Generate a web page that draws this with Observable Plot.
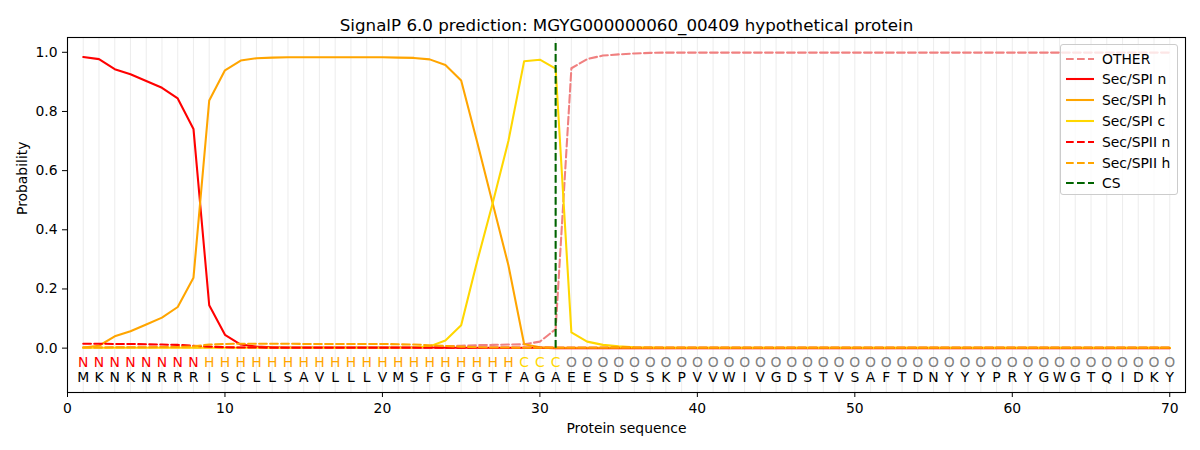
<!DOCTYPE html>
<html>
<head>
<meta charset="utf-8">
<script src="https://cdn.jsdelivr.net/npm/d3@7"></script>
<script src="https://cdn.jsdelivr.net/npm/@observablehq/plot@0.6"></script>
<style>
  html, body { margin: 0; padding: 0; background: #fff; }
  #wrap { position: relative; width: 1200px; height: 450px; font-family: "DejaVu Sans", sans-serif; }
  #legend { position: absolute; left: 1060px; top: 44px; width: 116px; height: 149px;
    border: 1px solid #cccccc; border-radius: 3px; background: rgba(255,255,255,0.8); }
  .row { position: absolute; left: 0; height: 20px; display: flex; align-items: center; font-size: 13.9px; color: #000; }
  .row svg { margin-left: 5px; margin-right: 8px; }
</style>
</head>
<body>
<div id="wrap"><div id="chart"></div><div id="legend"></div></div>
<script>
const title = "SignalP 6.0 prediction: MGYG000000060_00409 hypothetical protein";
const sequence = "MKNKNRRRISCLLSAVLLLVMSFGFGTFAGAEESDSSKPVVWIVGDSTVSAFTDNYYYPRYGWGTQIDKY".split("");
const regionLabels = "NNNNNNNNHHHHHHHHHHHHHHHHHHHHCCCOOOOOOOOOOOOOOOOOOOOOOOOOOOOOOOOOOOOOOO".split("");
const regionColors = {N: "#ff0000", H: "#ffa500", C: "#ffd700", O: "#808080"};
const xTicks = [0, 10, 20, 30, 40, 50, 60, 70];
const yTicks = [0, 0.2, 0.4, 0.6, 0.8, 1.0];
const csPosition = 31;

const other = [
  0.002,0.002,0.002,0.002,0.002,0.002,0.002,0.002,0.002,0.002,
  0.002,0.002,0.002,0.002,0.002,0.002,0.002,0.002,0.002,0.002,
  0.002,0.002,0.004,0.006,0.008,0.010,0.011,0.012,0.013,0.022,
  0.064,0.946,0.977,0.989,0.993,0.996,0.998,0.999,0.999,0.999,
  0.999,0.999,0.999,0.999,0.999,0.999,0.999,0.999,0.999,0.999,
  0.999,0.999,0.999,0.999,0.999,0.999,0.999,0.999,0.999,0.999,
  0.999,0.999,0.999,0.999,0.999,0.999,0.999,0.999,0.999,0.999];
const spiN = [
  0.984,0.977,0.943,0.926,0.903,0.880,0.844,0.741,0.145,0.045,
  0.012,0.005,0.003,0.002,0.002,0.002,0.002,0.002,0.002,0.002,
  0.002,0.002,0.002,0.001,0.001,0.001,0.001,0.001,0.001,0.001,
  0,0,0,0,0,0,0,0,0,0,
  0,0,0,0,0,0,0,0,0,0,
  0,0,0,0,0,0,0,0,0,0,
  0,0,0,0,0,0,0,0,0,0];
const spiH = [
  0.002,0.008,0.040,0.057,0.080,0.103,0.139,0.238,0.837,0.939,
  0.972,0.980,0.982,0.983,0.983,0.983,0.983,0.983,0.983,0.983,
  0.982,0.981,0.976,0.957,0.905,0.700,0.490,0.280,0.013,0.003,
  0.001,0.001,0.001,0.001,0.001,0.001,0.001,0.001,0.001,0.001,
  0.001,0.001,0.001,0.001,0.001,0.001,0.001,0.001,0.001,0.001,
  0.001,0.001,0.001,0.001,0.001,0.001,0.001,0.001,0.001,0.001,
  0.001,0.001,0.001,0.001,0.001,0.001,0.001,0.001,0.001,0.001];
const spiC = [
  0.001,0.001,0.001,0.001,0.001,0.001,0.001,0.001,0.001,0.001,
  0.001,0.001,0.001,0.001,0.001,0.001,0.001,0.001,0.001,0.001,
  0.001,0.002,0.006,0.026,0.077,0.290,0.490,0.700,0.970,0.975,
  0.945,0.053,0.022,0.011,0.006,0.003,0.002,0.001,0.001,0.001,
  0.001,0.001,0.001,0.001,0.001,0.001,0.001,0.001,0.001,0.001,
  0.001,0.001,0.001,0.001,0.001,0.001,0.001,0.001,0.001,0.001,
  0.001,0.001,0.001,0.001,0.001,0.001,0.001,0.001,0.001,0.001];
const spiiN = [
  0.015,0.015,0.014,0.014,0.013,0.012,0.011,0.008,0.005,0.003,
  0.002,0.002,0.001,0.001,0.001,0.001,0.001,0.001,0.001,0.001,
  0.001,0.001,0.001,0.001,0.001,0.001,0.001,0.001,0.001,0.001,
  0.001,0.001,0.001,0.001,0.001,0.001,0.001,0.001,0.001,0.001,
  0.001,0.001,0.001,0.001,0.001,0.001,0.001,0.001,0.001,0.001,
  0.001,0.001,0.001,0.001,0.001,0.001,0.001,0.001,0.001,0.001,
  0.001,0.001,0.001,0.001,0.001,0.001,0.001,0.001,0.001,0.001];
const spiiH = [
  0.002,0.002,0.003,0.003,0.003,0.004,0.004,0.006,0.012,0.014,
  0.015,0.015,0.015,0.015,0.014,0.014,0.014,0.014,0.014,0.014,
  0.013,0.012,0.010,0.007,0.005,0.003,0.002,0.002,0.001,0.001,
  0.001,0.001,0.001,0.001,0.001,0.001,0.001,0.001,0.001,0.001,
  0.001,0.001,0.001,0.001,0.001,0.001,0.001,0.001,0.001,0.001,
  0.001,0.001,0.001,0.001,0.001,0.001,0.001,0.001,0.001,0.001,
  0.001,0.001,0.001,0.001,0.001,0.001,0.001,0.001,0.001,0.001];

const DASH = "7.7,3.3";
const series = [
  {name: "OTHER", values: other, color: "#f08080", dash: DASH},
  {name: "Sec/SPI n", values: spiN, color: "#ff0000", dash: null},
  {name: "Sec/SPI h", values: spiH, color: "#ffa500", dash: null},
  {name: "Sec/SPI c", values: spiC, color: "#ffd700", dash: null},
  {name: "Sec/SPII n", values: spiiN, color: "#ff0000", dash: DASH},
  {name: "Sec/SPII h", values: spiiH, color: "#ffa500", dash: DASH}
];
const csEntry = {name: "CS", color: "#006400", dash: DASH};

const positions = sequence.map((_, i) => i + 1);
const residues = sequence.map((aa, i) => ({pos: i + 1, aa, region: regionLabels[i]}));

const marks = [
  Plot.ruleX(positions, {x: d => d, stroke: "#000", strokeOpacity: 0.07, strokeWidth: 1.1}),
  ...series.map(s => Plot.line(s.values.map((v, i) => ({pos: i + 1, v})), {
    x: "pos", y: "v", stroke: s.color, strokeWidth: 2.08,
    strokeDasharray: s.dash || undefined
  })),
  Plot.ruleX([csPosition], {x: d => d, y1: 0, y2: 1.04, stroke: csEntry.color, strokeWidth: 2.08, strokeDasharray: csEntry.dash}),
  Plot.text(residues, {x: "pos", y: -0.05, text: "region", fill: d => regionColors[d.region], fontSize: 13.9}),
  Plot.text(residues, {x: "pos", y: -0.1, text: "aa", fill: "#000", fontSize: 13.9}),
  Plot.frame({stroke: "#000", strokeWidth: 1.1}),
  Plot.axisX({ticks: xTicks, tickFormat: d => String(d), tickSize: 5, tickPadding: 6, fontSize: 13.9, label: null}),
  Plot.axisY({ticks: yTicks, tickFormat: d3.format(".1f"), tickSize: 5, tickPadding: 5, fontSize: 13.9, label: null}),
  Plot.text([title], {frameAnchor: "top", lineAnchor: "bottom", dy: -7, fontSize: 16.7, fill: "#000"}),
  Plot.text(["Protein sequence"], {frameAnchor: "bottom", lineAnchor: "bottom", dy: 40, fontSize: 13.9, fill: "#000"}),
  Plot.text(["Probability"], {frameAnchor: "left", dx: -45, rotate: -90, fontSize: 13.9, fill: "#000"})
];

const chart = Plot.plot({
  width: 1200, height: 450,
  marginLeft: 67, marginRight: 15, marginTop: 37, marginBottom: 58,
  x: {domain: [0, 71]},
  y: {domain: [-0.15, 1.05]},
  style: {fontFamily: "DejaVu Sans, sans-serif", color: "#000", background: "#fff", overflow: "visible"},
  marks
});
document.getElementById("chart").appendChild(chart);

const legend = document.getElementById("legend");
[...series, csEntry].forEach((s, i) => {
  const row = document.createElement("div");
  row.className = "row";
  row.style.top = (3.5 + i * 20.8) + "px";
  row.innerHTML = `<svg width="28" height="10"><line x1="0" x2="28" y1="5" y2="5" stroke="${s.color}" stroke-width="2.08" ${s.dash ? `stroke-dasharray="${s.dash}"` : ""}/></svg><span>${s.name}</span>`;
  legend.appendChild(row);
});
</script>
</body>
</html>
